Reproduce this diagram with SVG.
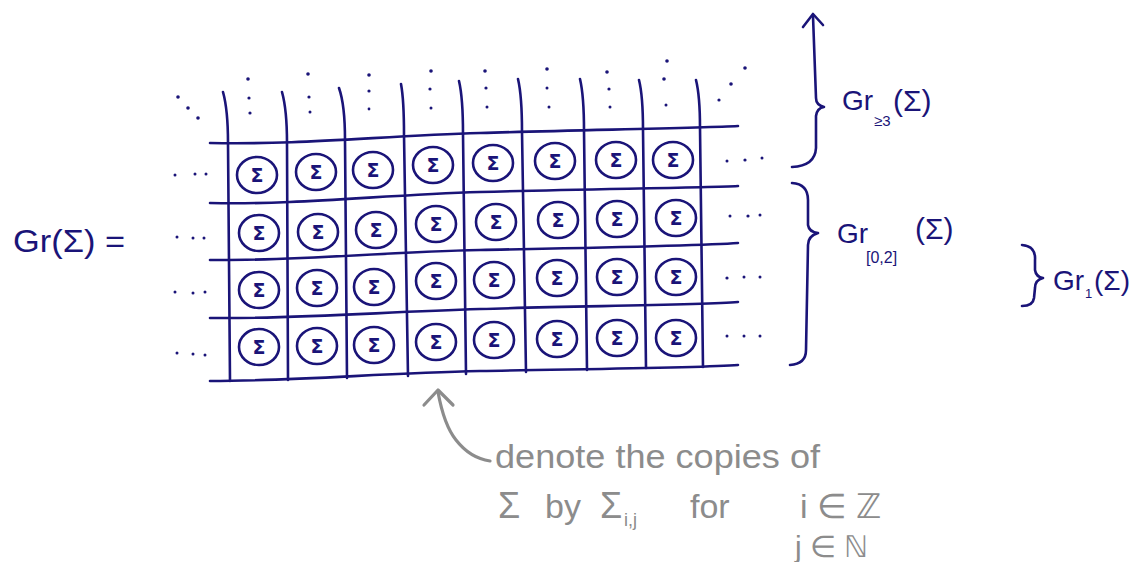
<svg xmlns="http://www.w3.org/2000/svg" width="1135" height="562" viewBox="0 0 1135 562">
<style>
.ln{fill:none;stroke:#1a1478;stroke-width:2.6;stroke-linecap:round;stroke-linejoin:round}
.cell{fill:none;stroke:#1a1478;stroke-width:2.6}
.sg{font-family:"DejaVu Sans",sans-serif;font-weight:bold;font-size:19px;fill:#1a1478;text-anchor:middle}
.dot{fill:#1a1478}
.lab{font-family:"Liberation Sans",sans-serif;fill:#1a1478}
.gr{fill:none;stroke:#8c8c8c;stroke-width:3.2;stroke-linecap:round;stroke-linejoin:round}
.gt{font-family:"Liberation Sans",sans-serif;fill:#8c8c8c}
</style>
<rect width="1135" height="562" fill="#ffffff"/>
<g id="grid">
<path class="ln" d="M210,143 C300,145 380,136 480,133 S700,128 738,126"/>
<path class="ln" d="M210,203 C300,205 380,195 480,192 S700,188 738,186"/>
<path class="ln" d="M210,260 C300,261 380,252 480,250 S700,246 738,243"/>
<path class="ln" d="M210,318 C300,319 380,312 480,309 S700,305 738,302"/>
<path class="ln" d="M210,381 C300,381 380,373 480,371 S700,368 738,365"/>
<path class="ln" d="M223,92 Q228,110 228,143 L230,381"/>
<path class="ln" d="M282,92 Q287,110 287,143 L288,380"/>
<path class="ln" d="M339,88 Q345,105 345,140 L347,378"/>
<path class="ln" d="M401,84 Q404,100 404,135 L408,376"/>
<path class="ln" d="M459,81 Q463,98 463,134 L466,374"/>
<path class="ln" d="M518,79 Q522,96 522,132 L526,372"/>
<path class="ln" d="M580,79 Q584,96 584,131 L587,370"/>
<path class="ln" d="M639,80 Q643,96 643,130 L646,368"/>
<path class="ln" d="M696,80 Q700,96 700,128 L703,367"/>
</g>
<g id="dots">
<g class="dot">
<circle cx="178" cy="97" r="1.8"/><circle cx="188" cy="108" r="1.8"/><circle cx="198" cy="118" r="1.8"/>
<circle cx="248" cy="79" r="1.8"/><circle cx="249" cy="98" r="1.6"/><circle cx="250" cy="113" r="1.6"/>
<circle cx="308" cy="74" r="1.8"/><circle cx="309" cy="97" r="1.6"/><circle cx="310" cy="112" r="1.5"/>
<circle cx="369" cy="75" r="1.8"/><circle cx="369" cy="91" r="1.6"/><circle cx="369" cy="109" r="1.4"/>
<circle cx="431" cy="71" r="1.8"/><circle cx="430" cy="89" r="1.6"/><circle cx="431" cy="108" r="1.5"/>
<circle cx="485" cy="71" r="1.8"/><circle cx="486" cy="88" r="1.6"/><circle cx="487" cy="107" r="1.5"/>
<circle cx="547" cy="69" r="1.8"/><circle cx="547" cy="88" r="1.5"/><circle cx="549" cy="107" r="1.5"/>
<circle cx="607" cy="72" r="1.8"/><circle cx="609" cy="89" r="1.6"/><circle cx="610" cy="107" r="1.5"/>
<circle cx="667" cy="61" r="1.8"/><circle cx="664" cy="79" r="1.8"/><circle cx="666" cy="105" r="1.5"/>
<circle cx="719" cy="100" r="1.6"/><circle cx="731" cy="84" r="1.8"/><circle cx="745" cy="68" r="1.8"/>
<circle cx="175" cy="175" r="1.5"/><circle cx="195" cy="174" r="1.5"/><circle cx="206" cy="174" r="1.5"/>
<circle cx="177" cy="237" r="1.5"/><circle cx="193" cy="238" r="1.5"/><circle cx="204" cy="238" r="1.5"/>
<circle cx="175" cy="292" r="1.5"/><circle cx="193" cy="293" r="1.5"/><circle cx="205" cy="292" r="1.5"/>
<circle cx="177" cy="353" r="1.5"/><circle cx="193" cy="354" r="1.5"/><circle cx="205" cy="355" r="1.5"/>
<circle cx="727" cy="161" r="1.5"/><circle cx="745" cy="160" r="1.6"/><circle cx="762" cy="158" r="1.5"/>
<circle cx="730" cy="216" r="1.5"/><circle cx="748" cy="216" r="1.6"/><circle cx="760" cy="215" r="1.5"/>
<circle cx="727" cy="278" r="1.6"/><circle cx="744" cy="277" r="1.5"/><circle cx="760" cy="277" r="1.5"/>
<circle cx="727" cy="336" r="1.5"/><circle cx="744" cy="336" r="1.5"/><circle cx="760" cy="336" r="1.5"/>
</g>
</g>
<g id="cells">
<g id="row1">
<ellipse class="cell" cx="257" cy="175" rx="20" ry="18"/><text class="sg" x="257" y="182">Σ</text>
<ellipse class="cell" cx="316" cy="172" rx="20" ry="18"/><text class="sg" x="316" y="179">Σ</text>
<ellipse class="cell" cx="373" cy="170" rx="20" ry="18"/><text class="sg" x="373" y="177">Σ</text>
<ellipse class="cell" cx="433" cy="165" rx="20" ry="18"/><text class="sg" x="433" y="172">Σ</text>
<ellipse class="cell" cx="493" cy="163" rx="20" ry="18"/><text class="sg" x="493" y="170">Σ</text>
<ellipse class="cell" cx="555" cy="161" rx="20" ry="18"/><text class="sg" x="555" y="168">Σ</text>
<ellipse class="cell" cx="616" cy="160" rx="20" ry="18"/><text class="sg" x="616" y="167">Σ</text>
<ellipse class="cell" cx="673" cy="160" rx="20" ry="18"/><text class="sg" x="673" y="167">Σ</text>
</g>
<g id="row2">
<ellipse class="cell" cx="259" cy="233" rx="20" ry="18"/><text class="sg" x="259" y="240">Σ</text>
<ellipse class="cell" cx="318" cy="232" rx="20" ry="18"/><text class="sg" x="318" y="239">Σ</text>
<ellipse class="cell" cx="376" cy="230" rx="20" ry="18"/><text class="sg" x="376" y="237">Σ</text>
<ellipse class="cell" cx="436" cy="224" rx="20" ry="18"/><text class="sg" x="436" y="231">Σ</text>
<ellipse class="cell" cx="496" cy="222" rx="20" ry="18"/><text class="sg" x="496" y="229">Σ</text>
<ellipse class="cell" cx="558" cy="220" rx="20" ry="18"/><text class="sg" x="558" y="227">Σ</text>
<ellipse class="cell" cx="617" cy="219" rx="20" ry="18"/><text class="sg" x="617" y="226">Σ</text>
<ellipse class="cell" cx="676" cy="218" rx="20" ry="18"/><text class="sg" x="676" y="225">Σ</text>
</g>
<g id="row3">
<ellipse class="cell" cx="259" cy="290" rx="20" ry="18"/><text class="sg" x="259" y="297">Σ</text>
<ellipse class="cell" cx="317" cy="288" rx="20" ry="18"/><text class="sg" x="317" y="295">Σ</text>
<ellipse class="cell" cx="374" cy="287" rx="20" ry="18"/><text class="sg" x="374" y="294">Σ</text>
<ellipse class="cell" cx="436" cy="281" rx="20" ry="18"/><text class="sg" x="436" y="288">Σ</text>
<ellipse class="cell" cx="494" cy="280" rx="20" ry="18"/><text class="sg" x="494" y="287">Σ</text>
<ellipse class="cell" cx="557" cy="278" rx="20" ry="18"/><text class="sg" x="557" y="285">Σ</text>
<ellipse class="cell" cx="617" cy="277" rx="20" ry="18"/><text class="sg" x="617" y="284">Σ</text>
<ellipse class="cell" cx="676" cy="277" rx="20" ry="18"/><text class="sg" x="676" y="284">Σ</text>
</g>
<g id="row4">
<ellipse class="cell" cx="259" cy="347" rx="20" ry="18"/><text class="sg" x="259" y="354">Σ</text>
<ellipse class="cell" cx="317" cy="346" rx="20" ry="18"/><text class="sg" x="317" y="353">Σ</text>
<ellipse class="cell" cx="374" cy="345" rx="20" ry="18"/><text class="sg" x="374" y="352">Σ</text>
<ellipse class="cell" cx="436" cy="342" rx="20" ry="18"/><text class="sg" x="436" y="349">Σ</text>
<ellipse class="cell" cx="494" cy="340" rx="20" ry="18"/><text class="sg" x="494" y="347">Σ</text>
<ellipse class="cell" cx="557" cy="339" rx="20" ry="18"/><text class="sg" x="557" y="346">Σ</text>
<ellipse class="cell" cx="617" cy="338" rx="20" ry="18"/><text class="sg" x="617" y="345">Σ</text>
<ellipse class="cell" cx="676" cy="338" rx="20" ry="18"/><text class="sg" x="676" y="345">Σ</text>
</g>
</g>
<g id="lhs">
<text class="lab" x="13" y="252" font-size="32" textLength="112" lengthAdjust="spacingAndGlyphs">Gr(Σ) =</text>
</g>
<g id="connectors">
<path class="ln" d="M792,167 Q815,166 816,148 L816,116 Q817,108 824,107 Q816,105 816,98 L813,16"/>
<path class="ln" d="M803,27 L813,14 L823,25"/>
<path class="ln" d="M792,183 Q808,184 808,200 L808,225 Q809,232 818,233 Q808,236 808,245 L806,350 Q806,364 790,365"/>
<path class="ln" d="M1022,245 Q1036,246 1035,260 L1035,270 Q1036,277 1043,278 Q1035,280 1035,288 L1034,298 Q1033,306 1022,306"/>
<path class="gr" d="M490,461 Q470,458 456,440 Q444,425 438,392"/>
<path class="gr" d="M424,405 L438,390 L453,405"/>
</g>
<g id="label-ge3">
<text class="lab" x="842" y="110" font-size="28">Gr</text>
<text class="lab" x="874" y="126" font-size="15">≥3</text>
<text class="lab" x="893" y="111" font-size="30">(Σ)</text>
</g>
<g id="label-02">
<text class="lab" x="837" y="243" font-size="28">Gr</text>
<text class="lab" x="866" y="263" font-size="16">[0,2]</text>
<text class="lab" x="915" y="239" font-size="30">(Σ)</text>
</g>
<g id="label-1">
<text class="lab" x="1053" y="290" font-size="28">Gr</text>
<text class="lab" x="1085" y="298" font-size="13">1</text>
<text class="lab" x="1094" y="290" font-size="28">(Σ)</text>
</g>
<g id="note">
<text class="gt" x="495" y="468" font-size="34" textLength="325" lengthAdjust="spacingAndGlyphs">denote the copies of</text>
<text class="gt" x="498" y="518" font-size="36">Σ</text>
<text class="gt" x="545" y="518" font-size="34">by</text>
<text class="gt" x="600" y="518" font-size="36">Σ</text>
<text class="gt" x="624" y="526" font-size="18">i,j</text>
<text class="gt" x="690" y="518" font-size="34">for</text>
<text class="gt" x="800" y="518" font-size="34">i ∈ ℤ</text>
<text class="gt" x="795" y="557" font-size="30">j ∈ ℕ</text>
</g>
</svg>
